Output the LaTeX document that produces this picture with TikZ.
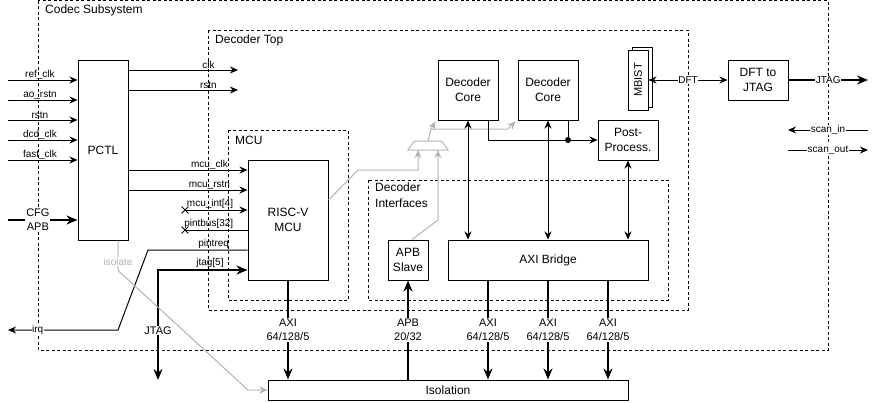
\documentclass[tikz,border=0pt]{standalone}
\usepackage{fontspec}
\setmainfont{Liberation Sans}
\usetikzlibrary{arrows.meta,shapes.misc}

\definecolor{ctlgray}{HTML}{B3B3B3}

\tikzset{
  blk/.style={draw,line width=1pt,fill=white,align=center,inner sep=0pt,font=\fontsize{12}{15}\selectfont},
  grp/.style={draw,line width=1pt,dash pattern=on 3pt off 2.5pt},
  grplbl/.style={anchor=west,inner sep=0pt,align=left,font=\fontsize{12}{16}\selectfont},
  wire/.style={line width=1pt},
  sig/.style={wire,->},
  bus/.style={line width=2pt,>={Stealth[length=11pt,width=9pt]}},
  lbl/.style={inner sep=0.5pt,font=\fontsize{10}{11}\selectfont},
  onlbl/.style={lbl,fill=white},
  buslbl/.style={inner sep=1pt,fill=white,align=center,font=\fontsize{11}{14}\selectfont},
  ctl/.style={line width=1pt,draw=ctlgray,->},
  xmark/.style={cross out,draw,line width=0.8pt,minimum size=6pt,inner sep=0pt},
  dot/.style={circle,fill,inner sep=0pt,minimum size=6pt},
}

\begin{document}
\begin{tikzpicture}[x=1pt,y=-1pt,>={Stealth[length=8pt,width=7pt]}]
        \useasboundingbox (0,0) rectangle (878,402);

        % Containers
        \draw[grp] (38,0.5) rectangle (828,350);
        \node[grplbl] at (45,10) {Codec Subsystem};
        \draw[grp] (208,30) rectangle (688,310);
        \node[grplbl] at (215,40) {Decoder Top};
        \draw[grp] (228,130) rectangle (348,300);
        \node[grplbl] at (235,140) {MCU};
        \draw[grp] (368,180) rectangle (668,300);
        \node[grplbl] at (375,195) {Decoder\\Interfaces};

        % Blocks
        \node[blk,minimum width=50pt,minimum height=180pt] (pctl) at (103,150) {PCTL};
        \node[blk,minimum width=80pt,minimum height=120pt] (risc) at (288,220) {RISC-V\\MCU};
        \node[blk,minimum width=60pt,minimum height=60pt] (core1) at (468,90) {Decoder\\Core};
        \node[blk,minimum width=60pt,minimum height=60pt] (core2) at (548,90) {Decoder\\Core};
        \node[blk,minimum width=60pt,minimum height=40pt] (post) at (628,140) {Post-\\Process.};
        \node[blk,minimum width=40pt,minimum height=40pt] (apb) at (408,260) {APB\\Slave};
        \node[blk,minimum width=200pt,minimum height=40pt] (bridge) at (548,260) {AXI Bridge};
        \node[blk,minimum width=360pt,minimum height=20pt] (iso) at (448,390) {Isolation};
        \node[blk,minimum width=60pt,minimum height=40pt] (dft) at (758,80) {DFT to\\JTAG};

        % MBIST stack
        \node[blk,minimum width=20pt,minimum height=60pt] (mbistbk) at (642,77) {};
        \node[blk,minimum width=20pt,minimum height=60pt,font=\fontsize{11}{13}\selectfont] (mbist) at (638,80) {\rotatebox{90}{MBIST}};

        % Clock / reset inputs of PCTL
        \foreach \y/\name in {80/ref\_clk,100/ao\_rstn,120/rstn,140/dcd\_clk,160/fast\_clk}
            \draw[sig] (8,\y) -- node[lbl,above,pos=0.46] {\name} (pctl.west |- 8,\y);
        \coordinate (cfgin) at (8,220);
        \draw[bus,->] (cfgin) -- node[buslbl,pos=0.43] {CFG\\APB} (pctl.west |- cfgin);

        % PCTL outputs
        \coordinate (clkend) at (238,70);
        \coordinate (rstend) at (238,90);
        \draw[sig] (pctl.east |- clkend) -- node[lbl,above,pos=0.73] {clk} (clkend);
        \draw[sig] (pctl.east |- rstend) -- node[lbl,above,pos=0.73] {rstn} (rstend);
        \foreach \y/\name in {170/mcu\_clk,190/mcu\_rstn}
            \draw[sig] (pctl.east |- 0,\y) -- node[lbl,above,pos=0.68] {\name} (risc.west |- 0,\y);

        % MCU side signals
        \node[xmark] (xint) at (185,210) {};
        \node[xmark] (xbus) at (185,230) {};
        \draw[sig] (xint.center) -- node[lbl,above,pos=0.4] {mcu\_int[4]} (risc.west |- xint);
        \draw[wire] (risc.west |- xbus) -- node[lbl,above,pos=0.62] {pintbus[32]} (xbus.center);
        \coordinate (irqend) at (8,330);
        \draw[sig] (risc.west |- 0,250) -- node[lbl,above,pos=0.34] {pintreq} (148,250)
            -- (118,330) -- node[onlbl,pos=0.73] {irq} (irqend);
        \coordinate (jtagend) at (158,380);
        \draw[bus,<->] (jtagend) -- node[buslbl,pos=0.45] {JTAG} (jtagend |- 0,270)
            -- node[lbl,above=1pt,pos=0.58] {jtag[5]} (risc.west |- 0,270);

        % isolate control
        \draw[ctl] ([xshift=15pt]pctl.south) -- node[onlbl,text=ctlgray,pos=0.7] {isolate} ++(0,30)
            -- (248,390) -- (iso.west);

        % Mux feeding the decoder cores
        \coordinate (muxin1) at (418,150);
        \coordinate (muxin2) at (438,150);
        \coordinate (muxout) at (428,141);
        \draw[ctlgray,line width=1pt] (408,150) -- (448,150) -- (441.5,141) -- (414.5,141) -- cycle;
        \draw[ctl] ([yshift=20pt]risc.east) -- (358,170) -- (418,170) -- (muxin1);
        \draw[ctl] ([xshift=4pt]apb.north) -- (438,220) -- (muxin2);
        \coordinate (muxsplit) at (431,129);
        \draw[ctl,-] (muxout) -- (muxsplit);
        \draw[ctl] (muxsplit) -- ([shift={(-2pt,-1pt)}]core1.south west);
        \draw[ctl] (muxsplit) -- (508,129) -- ([shift={(-2pt,-1pt)}]core2.south west);

        % Cores, post-processing and bridge
        \draw[sig,<->] (core1.south) -- (core1.south |- bridge.north);
        \draw[sig,<->] (core2.south) -- (core2.south |- bridge.north);
        \draw[sig,<->] (post.south) -- (post.south |- bridge.north);
        \draw[sig] ([xshift=20pt]core1.south) |- (post.west);
        \draw[wire] ([xshift=20pt]core2.south) -- ([xshift=20pt]core2.south |- post.west) node[dot] {};

        % Buses to the isolation block
        \draw[bus,->] (risc.south) -- node[buslbl] {AXI\\64/128/5} (risc.south |- iso.north);
        \draw[bus,->] (iso.north -| apb.south) -- node[buslbl] {APB\\20/32} (apb.south);
        \foreach \dx in {-60,0,60}
            \draw[bus,->] ([xshift=\dx pt]bridge.south) -- node[buslbl] {AXI\\64/128/5} ([xshift=\dx pt]bridge.south |- iso.north);

        % DFT / JTAG / scan
        \draw[sig,<->] (mbist.east) -- node[onlbl] {DFT} (dft.west);
        \coordinate (jtagout) at (868,80);
        \draw[bus,->] (dft.east) -- node[onlbl] {JTAG} (jtagout);
        \coordinate (scanin) at (868,130);
        \coordinate (scaninend) at (788,130);
        \draw[sig] (scanin) -- node[onlbl] {scan\_in} (scaninend);
        \coordinate (scanout) at (788,150);
        \coordinate (scanoutend) at (868,150);
        \draw[sig] (scanout) -- node[onlbl] {scan\_out} (scanoutend);
    \end{tikzpicture}
\end{document}
